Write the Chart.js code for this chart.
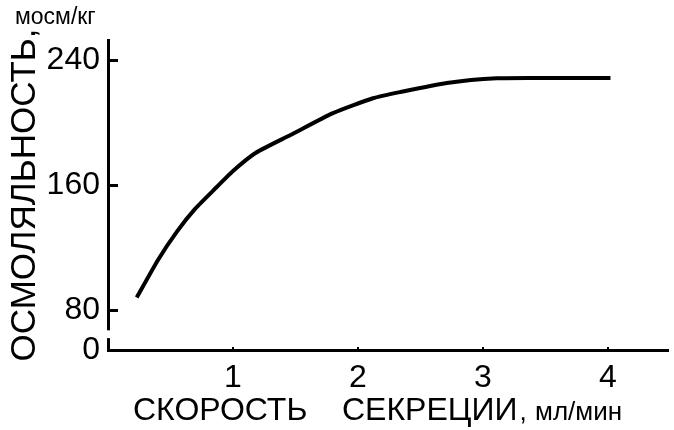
<!DOCTYPE html>
<html>
<head>
<meta charset="utf-8">
<script src="https://cdn.jsdelivr.net/npm/chart.js@4.4.1/dist/chart.umd.min.js"></script>
<style>
  html, body { margin: 0; padding: 0; background: #fff; }
  #wrap { width: 674px; height: 430px; }
</style>
</head>
<body>
<div id="wrap"><canvas id="chart"></canvas></div>
<script>
// secretion rate, ml/min
const rate = [0.23, 0.4, 0.55, 0.7, 0.87, 1.0, 1.18, 1.46, 1.8, 2.12, 2.34, 2.71, 3.11, 3.5, 4.02];
// osmolality, mosm/kg
const osmolality = [88, 112, 130, 145, 158.7, 169, 180.5, 192, 206, 215.5, 219.5, 225.3, 228.3, 228.5, 228.5];

const xTicks = [1, 2, 3, 4];
const yTicks = [80, 160, 240];

// broken y axis: the bottom of the axis stands for 0
const yFloor = 54.4;
const yBreak = [62, 67];

const FONT = '"Liberation Sans", Arial, sans-serif';
Chart.defaults.font.family = FONT;
Chart.defaults.color = '#000';

// little ticks, axis break and the mixed-size captions
const decorations = {
  id: 'decorations',
  afterDraw(chart) {
    const ctx = chart.ctx;
    const xs = chart.scales.x, ys = chart.scales.y;
    const area = chart.chartArea;
    ctx.save();

    // gap in the y axis
    const gTop = ys.getPixelForValue(yBreak[1]);
    const gBot = ys.getPixelForValue(yBreak[0]);
    ctx.fillStyle = '#fff';
    ctx.fillRect(area.left - 4, gTop, 8, gBot - gTop);

    ctx.strokeStyle = '#000';
    ctx.lineWidth = 3;
    yTicks.forEach(v => {
      const y = Math.round(ys.getPixelForValue(v)) + 0.5;
      ctx.beginPath();
      ctx.moveTo(area.left, y);
      ctx.lineTo(area.left + 10, y);
      ctx.stroke();
    });
    ctx.lineWidth = 2;
    xTicks.forEach(v => {
      const x = Math.round(xs.getPixelForValue(v));
      ctx.beginPath();
      ctx.moveTo(x, area.bottom);
      ctx.lineTo(x, area.bottom - 3);
      ctx.stroke();
    });

    ctx.fillStyle = '#000';
    ctx.textBaseline = 'alphabetic';
    ctx.textAlign = 'left';
    ctx.font = '23px ' + FONT;
    ctx.fillText('мосм/кг', 15, 24);

    ctx.font = '32px ' + FONT;
    ctx.fillText('СКОРОСТЬ', 133, 420);
    ctx.fillText('СЕКРЕЦИИ', 342, 420);
    const w = ctx.measureText('СЕКРЕЦИИ').width;
    ctx.font = '26px ' + FONT;
    ctx.fillText(',', 342 + w + 2, 420);
    ctx.fillText('мл/мин', 535, 420);
    ctx.restore();
  }
};

new Chart(document.getElementById('chart'), {
  type: 'line',
  data: {
    datasets: [{
      data: rate.map((r, i) => ({ x: r, y: osmolality[i] })),
      borderColor: '#000',
      borderWidth: 4,
      pointRadius: 0,
      tension: 0.2,
      fill: false
    }]
  },
  options: {
    responsive: true,
    maintainAspectRatio: false,
    animation: false,
    layout: { padding: { left: 0, top: 40, right: 6, bottom: 0 } },
    plugins: { legend: { display: false }, tooltip: { enabled: false } },
    scales: {
      x: {
        type: 'linear',
        min: 0,
        max: 4.48,
        afterBuildTicks: s => { s.ticks = xTicks.map(v => ({ value: v })); },
        afterFit: s => { s.height = 80; },
        grid: { display: false, drawTicks: false },
        border: { display: true, color: '#000', width: 3 },
        ticks: { font: { size: 32 }, padding: 9, autoSkip: false, maxRotation: 0 }
      },
      y: {
        min: yFloor,
        max: 252.8,
        afterBuildTicks: s => { s.ticks = [yFloor].concat(yTicks).map(v => ({ value: v })); },
        afterFit: s => { s.width = 108; },
        grid: { display: false, drawTicks: false },
        border: { display: true, color: '#000', width: 3 },
        ticks: {
          font: { size: 32 },
          padding: 8,
          autoSkip: false,
          callback: v => (v === yFloor ? '0' : String(v))
        },
        title: {
          display: true,
          text: 'ОСМОЛЯЛЬНОСТЬ,',
          font: { size: 35 },
          padding: { top: 4, bottom: 0 }
        }
      }
    }
  },
  plugins: [decorations]
});
</script>
</body>
</html>
